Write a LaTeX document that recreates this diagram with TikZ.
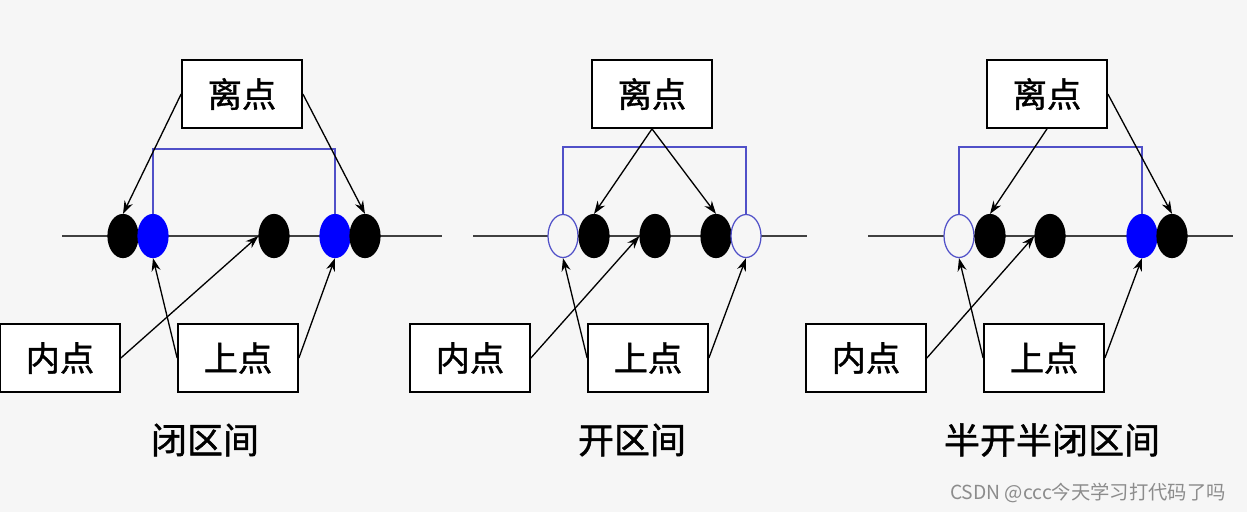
\documentclass[tikz,border=0pt]{standalone}
\usepackage{fontspec}
\newfontfamily\cjk[FakeBold=1.2]{Noto Sans CJK SC}
\newfontfamily\cjkthin{Noto Sans CJK SC}
\usetikzlibrary{shapes.geometric,arrows.meta}
\definecolor{bg}{HTML}{F6F6F6}
\definecolor{openblue}{HTML}{5050C8}
\begin{document}
\begin{tikzpicture}[
    x=0.02cm, y=-0.02cm,
    >={Stealth[length=2.6mm,width=1.8mm]},
    box/.style={
        draw,
        line width=1pt,
        fill=white,
        minimum width=2.4cm,
        minimum height=1.36cm,
        inner sep=0pt,
        font=\cjk\fontsize{19.5}{22}\selectfont
    },
    pt/.style={ellipse, draw, line width=0.7pt, minimum width=0.6cm,
        minimum height=0.86cm, inner sep=0pt},
    dot/.style={pt, fill=black},
    closed/.style={pt, draw=blue, fill=blue},
    open/.style={pt, draw=openblue, fill=bg},
    arr/.style={->, line width=0.75pt},
    axis/.style={line width=0.7pt, draw=black!75},
    bracket/.style={line width=0.9pt, draw=openblue},
    caption/.style={font=\cjk\fontsize{20.5}{24}\selectfont}
]
    \fill[bg] (0,0) rectangle (1247,512);
    \useasboundingbox (0,0) rectangle (1247,512);

    % closed interval
    \draw[axis] (62,236) -- (442,236);
    \node[dot] (a1) at (123,236) {};
    \node[closed] (a2) at (153,236) {};
    \node[dot] (a3) at (274,236) {};
    \node[closed] (a4) at (335,236) {};
    \node[dot] (a5) at (365,236) {};
    \node[box] (li1) at (242,94) {离点};
    \node[box] (nei1) at (60,358) {内点};
    \node[box] (shang1) at (238,358) {上点};
    \node[caption] (t1) at (205,440) {闭区间};
    \coordinate (top1) at (0,149);
    \draw[bracket] (a2.north) -- (a2.north |- top1) -| (a4.north);
    \draw[arr] (li1.west) -- (a1.north);
    \draw[arr] (li1.east) -- (a5.north);
    \draw[arr] (nei1.east) -- (a3.west);
    \draw[arr] (shang1.west) -- (a2.south);
    \draw[arr] (shang1.east) -- (a4.south);

    % open interval
    \draw[axis] (473,236) -- (807,236);
    \node[open] (b1) at (563,236) {};
    \node[dot] (b2) at (594,236) {};
    \node[dot] (b3) at (655,236) {};
    \node[dot] (b4) at (716,236) {};
    \node[open] (b5) at (746,236) {};
    \node[box] (li2) at (652,94) {离点};
    \node[box] (nei2) at (470,358) {内点};
    \node[box] (shang2) at (648,358) {上点};
    \node[caption] (t2) at (632,440) {开区间};
    \coordinate (top2) at (0,147);
    \draw[bracket] (b1.north) -- (b1.north |- top2) -| (b5.north);
    \draw[arr] (li2.south) -- (b2.north);
    \draw[arr] (li2.south) -- (b4.north);
    \draw[arr] (nei2.east) -- (b3.west);
    \draw[arr] (shang2.west) -- (b1.south);
    \draw[arr] (shang2.east) -- (b5.south);

    % half-open interval
    \draw[axis] (868,236) -- (1233,236);
    \node[open] (c1) at (959,236) {};
    \node[dot] (c2) at (990,236) {};
    \node[dot] (c3) at (1050,236) {};
    \node[closed] (c4) at (1142,236) {};
    \node[dot] (c5) at (1172,236) {};
    \node[box] (li3) at (1047,94) {离点};
    \node[box] (nei3) at (866,358) {内点};
    \node[box] (shang3) at (1044,358) {上点};
    \node[caption] (t3) at (1052,440) {半开半闭区间};
    \coordinate (top3) at (0,147);
    \draw[bracket] (c1.north) -- (c1.north |- top3) -| (c4.north);
    \draw[arr] (li3.south) -- (c2.north);
    \draw[arr] (li3.east) -- (c5.north);
    \draw[arr] (nei3.east) -- (c3.west);
    \draw[arr] (shang3.west) -- (c1.south);
    \draw[arr] (shang3.east) -- (c4.south);

    \node[anchor=east, text=black!45, font=\cjkthin\fontsize{11}{13}\selectfont]
        (mark) at (1232,493) {CSDN @ccc今天学习打代码了吗};
\end{tikzpicture}
\end{document}
